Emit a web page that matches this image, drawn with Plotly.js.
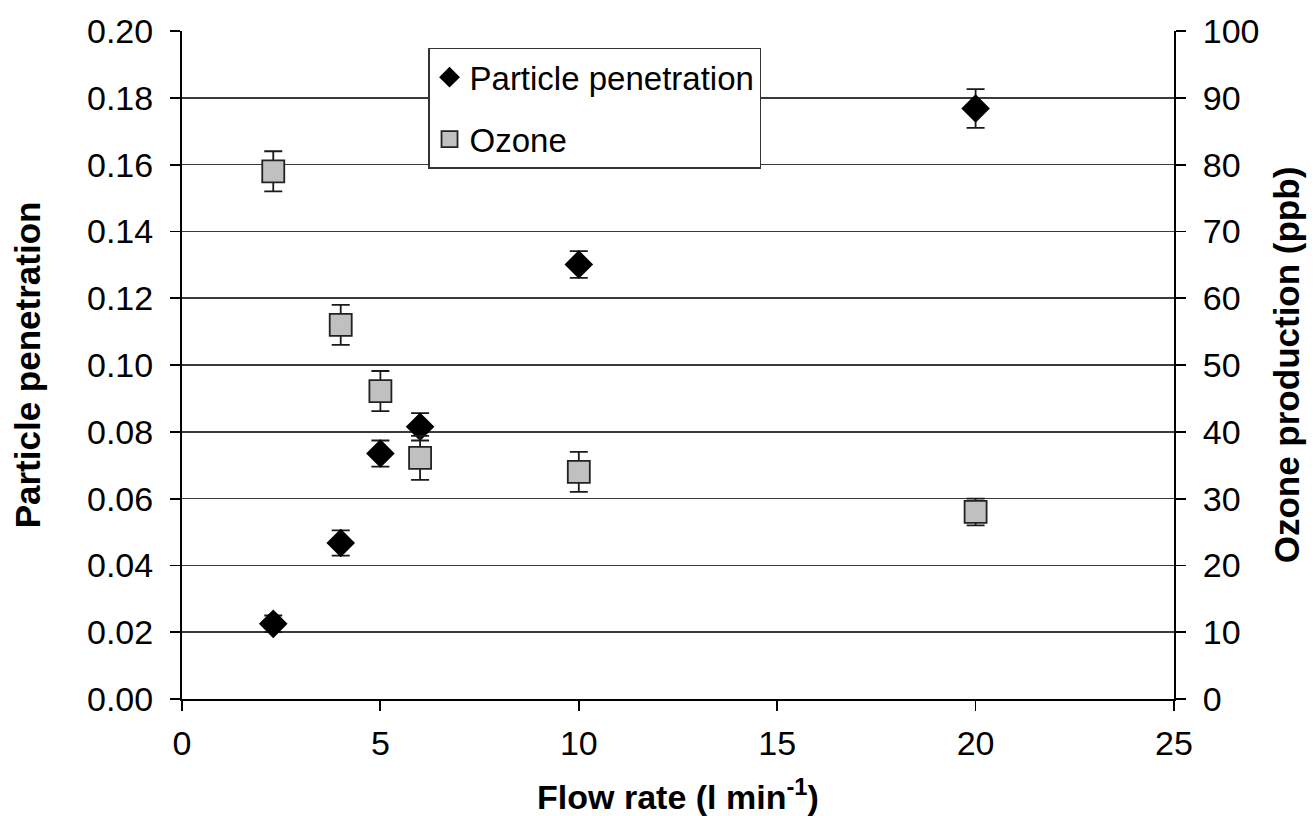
<!DOCTYPE html>
<html>
<head>
<meta charset="utf-8">
<script src="https://cdn.plot.ly/plotly-3.0.1.min.js"></script>
<style>html,body{margin:0;padding:0;background:#fff;}#chart{width:1314px;height:816px;}</style>
</head>
<body>
<div id="chart"></div>
<script>
// Particle penetration (left axis)
const ppFlow = [2.3, 4, 5, 6, 10, 20];
const ppValue = [0.0225, 0.0467, 0.0735, 0.0815, 0.1301, 0.1768];
const ppError = [0.0025, 0.0038, 0.0039, 0.0041, 0.004, 0.0058];

// Ozone production (right axis, ppb)
const ozFlow = [2.3, 4, 5, 6, 10, 20];
const ozValue = [79.0, 56.0, 46.1, 36.1, 34.0, 28.0];
const ozError = [3, 3, 3, 3.3, 3, 2];

const FONT = "Liberation Sans, Arial, sans-serif";

const traces = [
  {
    x: ppFlow, y: ppValue, name: 'Particle penetration', type: 'scatter', mode: 'markers',
    legendgroup: 'a',
    marker: {symbol: 'diamond', size: 22, color: '#000000', line: {width: 0}},
    error_y: {type: 'data', array: ppError, visible: true, color: '#1a1a1a', thickness: 1.8, width: 9},
    yaxis: 'y'
  },
  {
    x: ozFlow, y: ozValue, name: 'Ozone', type: 'scatter', mode: 'markers',
    legendgroup: 'b',
    marker: {symbol: 'square', size: 22, color: '#c0c0c0', line: {width: 1.8, color: '#222222'}},
    error_y: {type: 'data', array: ozError, visible: true, color: '#1a1a1a', thickness: 1.8, width: 9},
    yaxis: 'y2'
  }
];

const layout = {
  width: 1314, height: 816,
  margin: {l: 182, r: 140, t: 27, b: 117},
  paper_bgcolor: '#ffffff', plot_bgcolor: '#ffffff',
  font: {family: FONT, color: '#000000', size: 30},
  showlegend: true,
  legend: {
    x: 0.248, y: 0.975, xanchor: 'left', yanchor: 'top',
    bgcolor: '#ffffff', bordercolor: '#333333', borderwidth: 1.5,
    font: {family: FONT, size: 33, color: '#000'},
    tracegroupgap: 16, itemwidth: 30
  },
  xaxis: {
    range: [0, 25], dtick: 5, tick0: 0, showgrid: false, zeroline: false,
    showline: true, linecolor: '#000', linewidth: 2, automargin: false,
    ticks: 'outside', ticklen: 10, tickcolor: '#000', tickwidth: 1.8,
    tickfont: {family: FONT, size: 34}, ticklabelstandoff: 3,
    title: {text: '<b>Flow rate (l min<sup>-1</sup>)</b>', font: {family: FONT, size: 34}}
  },
  yaxis: {
    range: [0, 0.2], dtick: 0.02, tick0: 0, tickformat: '.2f',
    showgrid: true, gridcolor: '#3a3a3a', gridwidth: 1.5, zeroline: false,
    showline: true, linecolor: '#000', linewidth: 2, automargin: true,
    ticks: 'outside', ticklen: 10, tickcolor: '#000', tickwidth: 1.8,
    tickfont: {family: FONT, size: 34}, ticklabelstandoff: 10,
    title: {text: '<b>Particle penetration</b>', font: {family: FONT, size: 35}, standoff: 36}
  },
  yaxis2: {
    range: [0, 100], dtick: 10, tick0: 0, overlaying: 'y', side: 'right',
    showgrid: false, zeroline: false, automargin: true,
    showline: true, linecolor: '#000', linewidth: 2,
    ticks: 'outside', ticklen: 10, tickcolor: '#000', tickwidth: 1.8,
    tickfont: {family: FONT, size: 34}, ticklabelstandoff: 10,
    title: {text: '<b>Ozone production (ppb)</b>', font: {family: FONT, size: 35}, standoff: 16}
  }
};

Plotly.newPlot('chart', traces, layout, {displayModeBar: false, staticPlot: true});
</script>
</body>
</html>
